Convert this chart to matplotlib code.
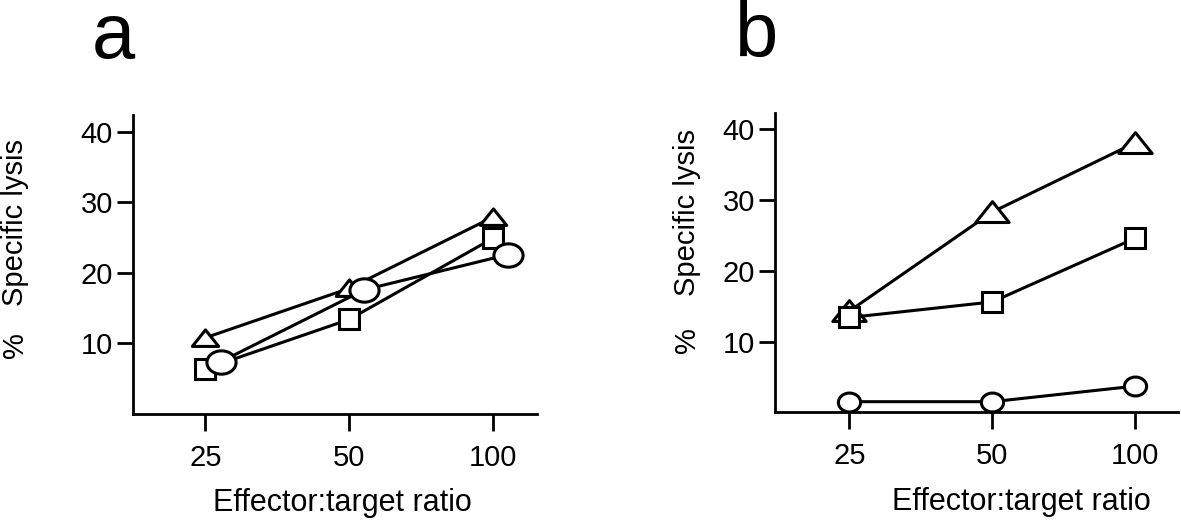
import matplotlib
matplotlib.use("Agg")
import matplotlib.pyplot as plt
from matplotlib.path import Path
from matplotlib.transforms import Affine2D, ScaledTranslation
import numpy as np

plt.rcParams['font.family'] = ['Liberation Sans', 'DejaVu Sans']

# ---------------- data ----------------
ratios = [25, 50, 100]
ratio_labels = ['25', '50', '100']
yticks = [10, 20, 30, 40]
ytick_labels = ['10', '20', '30', '40']

a_triangle = [10.8, 17.8, 27.9]
a_square = [6.4, 13.4, 24.9]
a_circle = [7.4, 17.6, 22.6]

b_triangle = [14.3, 28.3, 38.1]
b_square = [13.4, 15.6, 24.6]
b_circle = [1.5, 1.5, 3.7]

panel_labels = ['a', 'b']
xlabel = 'Effector:target ratio'
ylabel_pct = '%'
ylabel_txt = 'Specific lysis'

# ---------------- styling ----------------
W, H = 1181, 524
fig = plt.figure(figsize=(W / 100, H / 100), dpi=100)

def px_axes(l, t, r, b):
    return fig.add_axes([l / W, 1 - b / H, (r - l) / W, (b - t) / H])

tri = Path([(-1, -0.6), (1, -0.6), (0, 0.65), (-1, -0.6)],
           [Path.MOVETO, Path.LINETO, Path.LINETO, Path.CLOSEPOLY])
ell_a = Affine2D().scale(1, 0.8).transform_path(Path.unit_circle())
ell_b = Affine2D().scale(1, 0.85).transform_path(Path.unit_circle())

def style_axes(ax, xl, xr, ytop):
    ax.set_xscale('log', base=2)
    ax.set_xlim(xl, xr)
    ax.set_ylim(0, ytop)
    ax.set_xticks(ratios)
    ax.set_xticklabels(ratio_labels)
    ax.xaxis.set_minor_locator(matplotlib.ticker.NullLocator())
    ax.set_yticks(yticks)
    ax.set_yticklabels(ytick_labels)
    for s in ['top', 'right']:
        ax.spines[s].set_visible(False)
    for s in ['left', 'bottom']:
        ax.spines[s].set_linewidth(2.0)
    ax.tick_params(axis='x', direction='out', length=12.5, width=2.0,
                   pad=9, labelsize=21)
    ax.tick_params(axis='y', direction='out', length=11.5, width=2.0,
                   pad=3, labelsize=21)
    ax.patch.set_alpha(0)

lw = 2.2
mk = dict(color='black', markerfacecolor='white', markeredgecolor='black',
          markeredgewidth=2.2, linewidth=lw, clip_on=False)

# Panel a
ax1 = px_axes(133, 115, 537, 414)
style_axes(ax1, 25 / 2 ** 0.503, 100 * 2 ** 0.306, (414 - 115) / 7.0575)
shift = ScaledTranslation(11 / 72, 0, fig.dpi_scale_trans)
ax1.plot(ratios, a_triangle, marker=tri, markersize=19, zorder=3, **mk)
ax1.plot(ratios, a_square, marker='s', markersize=15, zorder=3, **mk)
ax1.plot(ratios, a_circle, marker=ell_a, markersize=21, zorder=4,
         transform=ax1.transData + shift, **mk)

# Panel b
ax2 = px_axes(775, 113, 1178, 412.3)
style_axes(ax2, 25 / 2 ** 0.52, 100 * 2 ** 0.30, (412.3 - 113) / 7.075)
ax2.plot(ratios, b_triangle, marker=tri, markersize=24, zorder=3, **mk)
ax2.plot(ratios, b_square, marker='s', markersize=15, zorder=4, **mk)
ax2.plot(ratios, b_circle, marker=ell_b, markersize=16, zorder=3, **mk)

# labels
def ftext(x, y, s, **kw):
    fig.text(x / W, 1 - y / H, s, **kw)

ftext(113, 58, panel_labels[0], fontsize=56, ha='center', va='baseline')
ftext(757, 57, panel_labels[1], fontsize=56, ha='center', va='baseline')

ftext(342, 511, xlabel, fontsize=22, ha='center', va='baseline')
ftext(1021, 510, xlabel, fontsize=22, ha='center', va='baseline')

ftext(15, 223, ylabel_txt, fontsize=21, rotation=90, ha='center', va='center')
ftext(15, 345, ylabel_pct, fontsize=21, rotation=90, ha='center', va='center')
ftext(687, 213, ylabel_txt, fontsize=21, rotation=90, ha='center', va='center')
ftext(687, 340, ylabel_pct, fontsize=21, rotation=90, ha='center', va='center')

fig.savefig('out.png', dpi=100)
